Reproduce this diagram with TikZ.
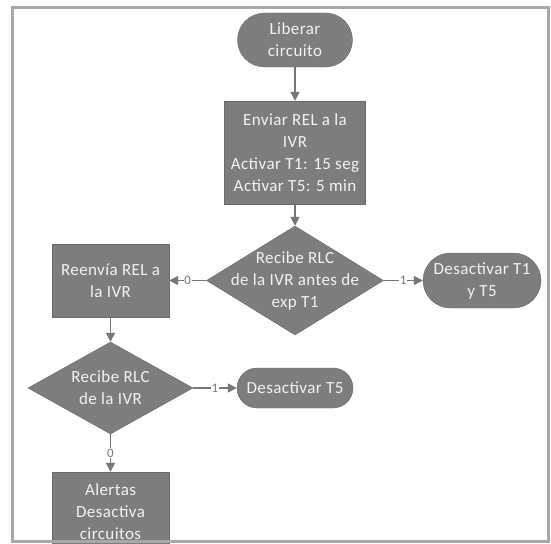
\documentclass[tikz,border=0pt]{standalone}
\usepackage{fontspec}
\setmainfont[LetterSpace=2.5]{Carlito}
\usetikzlibrary{shapes.geometric,shapes.misc,arrows.meta}
\definecolor{boxgray}{RGB}{125,125,125}
\definecolor{linegray}{RGB}{118,118,118}
\definecolor{framegray}{RGB}{168,168,168}
\begin{document}
\begin{tikzpicture}[x=1pt,y=-1pt]
\tikzstyle{tx} = [text=white!95!black,font=\fontsize{17}{22}\selectfont,align=center,inner sep=0pt] %text
\tikzstyle{term} = [tx,rounded rectangle,fill=boxgray,draw=boxgray!85!black] %terminal
\tikzstyle{proc} = [tx,rectangle,fill=boxgray,draw=boxgray!85!black] %process
\tikzstyle{dec} = [diamond,fill=boxgray,draw=boxgray!85!black,inner sep=0pt] %decision
\tikzstyle{de} = [-{Triangle[length=9pt,width=9pt]},draw=linegray,line width=1.6pt] %directed edge
\tikzstyle{lb} = [fill=white,text=linegray,font=\fontsize{13}{13}\selectfont,inner sep=0.5pt] %edge label
\clip (0,0) rectangle (551,543);
\fill[white] (0,0) rectangle (551,543);
\node[term,minimum width=115,minimum height=54](nlib)at(295,40){Liberar\\circuito};
\node[proc,minimum width=141,minimum height=103](nenv)at(295,152.5){Enviar REL a la\\IVR\\Activar T1: 15 seg\\Activar T5: 5 min};
\node[dec,minimum width=177,minimum height=109](nd1)at(295,280.5){};
\node[tx](nd1t)at(nd1){Recibe RLC\\de la IVR antes de\\exp T1};
\node[proc,minimum width=117,minimum height=73](nre)at(110.5,280.5){Reenvía REL a\\la IVR};
\node[term,minimum width=118,minimum height=55](ndt1)at(482,280.5){Desactivar T1\\y T5};
\node[dec,minimum width=165,minimum height=92](nd2)at(110.5,388){};
\node[tx](nd2t)at(nd2){Recibe RLC\\de la IVR};
\node[term,minimum width=116,minimum height=40](ndt5)at(295,388){Desactivar T5};
\node[proc,minimum width=117,minimum height=80](nal)at(110.5,512){Alertas\\Desactiva\\circuitos};
\draw[de](nlib)--(nenv);
\draw[de](nenv)--(nd1);
\draw[de](nd1)--node[lb]{0}(nre);
\draw[de](nd1)--node[lb]{1}(ndt1);
\draw[de](nre)--(nd2);
\draw[de](nd2)--node[lb]{1}(ndt5);
\draw[de](nd2)--node[lb]{0}(nal);
\draw[framegray,line width=3pt](12,7.5) rectangle (548,541.5);
\end{tikzpicture}
\end{document}
